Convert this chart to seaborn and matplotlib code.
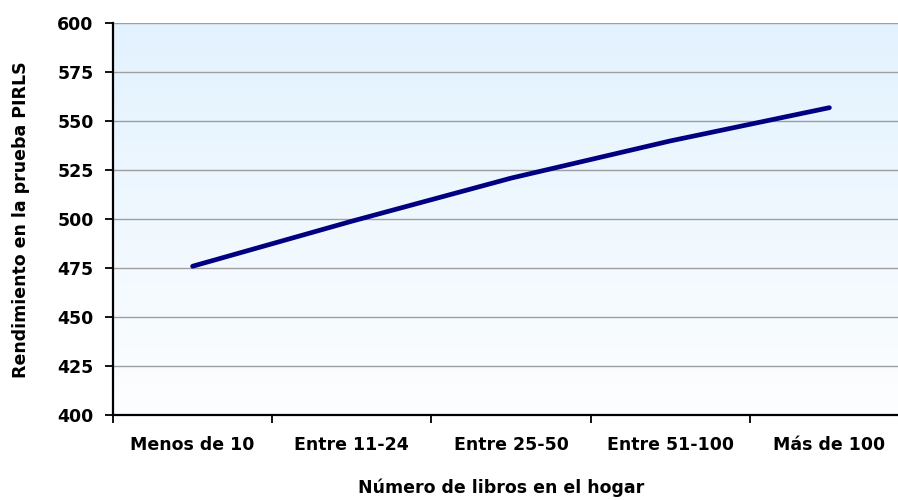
import numpy as np
import pandas as pd
import matplotlib
matplotlib.use("Agg")
import matplotlib.pyplot as plt
from matplotlib.colors import LinearSegmentedColormap
import seaborn as sns

categories = ["Menos de 10", "Entre 11-24", "Entre 25-50", "Entre 51-100", "Más de 100"]
scores = [476, 499, 521, 540, 557]
y_ticks = [400, 425, 450, 475, 500, 525, 550, 575, 600]
x_title = "Número de libros en el hogar"
y_title = "Rendimiento en la prueba PIRLS"

sns.set_theme(style="white")
plt.rcParams["font.family"] = ["DejaVu Sans"]
plt.rcParams["text.color"] = "black"
plt.rcParams["axes.labelcolor"] = "black"
plt.rcParams["xtick.color"] = "black"
plt.rcParams["ytick.color"] = "black"

df = pd.DataFrame({"cat": categories, "score": scores})

fig = plt.figure(figsize=(8.98, 5.0), dpi=100)
ax = fig.add_axes([113 / 898, 85 / 500, 796 / 898, 391.5 / 500])

# gradient background
cmap = LinearSegmentedColormap.from_list("bg", ["#FDFEFF", "#E2F2FE"])
grad = np.linspace(0, 1, 256).reshape(-1, 1)
ax.imshow(grad, cmap=cmap, origin="lower", aspect="auto",
          extent=(-0.5, 4.5, 400, 600), zorder=0)

sns.lineplot(data=df, x="cat", y="score", ax=ax, color="#000080",
             linewidth=3.4, solid_capstyle="round", solid_joinstyle="round",
             zorder=3, sort=False)

ax.set_xlim(-0.5, 4.5)
ax.set_ylim(400, 600)

# gridlines
for v in y_ticks[1:]:
    ax.axhline(v, color="#9E9E9E", linewidth=1.0, zorder=1)

for s in ["top", "right"]:
    ax.spines[s].set_visible(False)
for s in ["left", "bottom"]:
    ax.spines[s].set_color("black")
    ax.spines[s].set_linewidth(1.6)
    ax.spines[s].set_zorder(4)

ax.set_yticks(y_ticks)
ax.set_yticklabels([str(v) for v in y_ticks])
ax.tick_params(axis="y", which="major", direction="out", length=5.5, width=1.3,
               color="black", labelcolor="black", pad=8.5, labelsize=12.5, left=True)
for lab in ax.get_yticklabels():
    lab.set_fontweight("bold")

ax.set_xticks(range(len(categories)))
ax.set_xticklabels(categories)
ax.tick_params(axis="x", which="major", length=0, pad=15, labelsize=12.5,
               labelcolor="black")
for lab in ax.get_xticklabels():
    lab.set_fontweight("bold")
ax.set_xticks(np.arange(-0.5, 5.0, 1.0), minor=True)
ax.tick_params(axis="x", which="minor", direction="out", length=5.5, width=1.3,
               color="black", bottom=True)

ax.set_xlabel(x_title, fontsize=12.5, fontweight="bold", color="black")
ax.xaxis.set_label_coords(0.487, -0.163)
ax.set_ylabel(y_title, fontsize=12.5, fontweight="bold", color="black")
ax.yaxis.set_label_coords(-0.104, 0.5)

fig.savefig("out.png", dpi=100, facecolor="white")
